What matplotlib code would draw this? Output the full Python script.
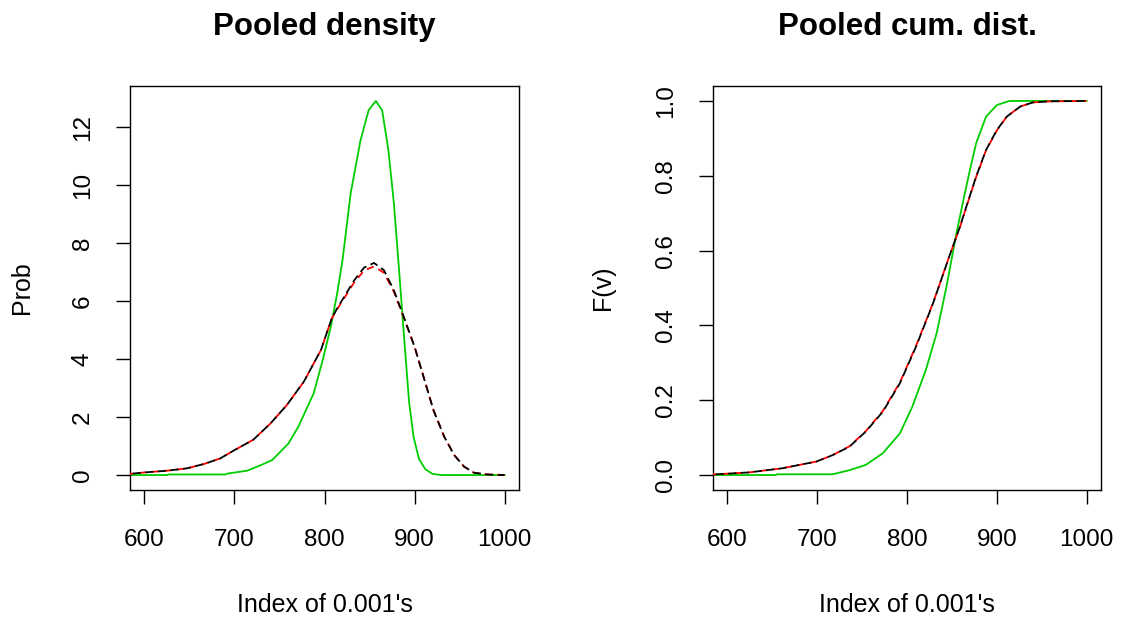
import matplotlib
matplotlib.use("Agg")
import matplotlib.pyplot as plt

plt.rcParams['font.family'] = ['Liberation Sans', 'DejaVu Sans']

# pooled density
dens_black_x = [580, 600, 625, 647, 666, 684, 700, 721, 740, 758, 777, 796, 808, 814,
                833, 844, 855, 866, 877, 888, 900, 910, 921, 933, 944, 955, 966, 981, 1000]
dens_black_y = [0.03, 0.09, 0.15, 0.23, 0.38, 0.57, 0.86, 1.22, 1.78, 2.41, 3.22, 4.31, 5.40, 5.75,
                6.72, 7.16, 7.32, 7.07, 6.38, 5.46, 4.43, 3.39, 2.24, 1.32, 0.69, 0.29, 0.08, 0.02, 0.0]

dens_red_x = dens_black_x
dens_red_y = [0.03, 0.09, 0.15, 0.23, 0.38, 0.57, 0.86, 1.22, 1.78, 2.41, 3.22, 4.31, 5.40, 5.72,
              6.65, 7.06, 7.20, 6.98, 6.33, 5.44, 4.43, 3.39, 2.24, 1.32, 0.69, 0.29, 0.08, 0.02, 0.0]

dens_green_x = [580, 625, 627, 690, 692, 714, 730, 742, 760, 771, 788, 798, 807, 814, 820, 829,
                840, 849, 857, 864, 871, 877, 883, 889, 894, 899, 905, 912, 920, 930, 1000]
dens_green_y = [0.0, 0.0, 0.02, 0.02, 0.05, 0.15, 0.35, 0.52, 1.09, 1.67, 2.82, 3.97, 5.11, 6.26, 7.41, 9.71,
                11.55, 12.59, 12.91, 12.59, 11.2, 9.4, 7.0, 4.5, 2.5, 1.3, 0.55, 0.2, 0.04, 0.0, 0.0]

# pooled cumulative distribution
cdf_black_x = [580, 624, 661, 699, 717, 736, 754, 773, 792, 810, 829, 847, 859, 866,
               877, 888, 900, 911, 926, 940, 959, 1000]
cdf_black_y = [0.001, 0.007, 0.018, 0.036, 0.053, 0.076, 0.116, 0.169, 0.245, 0.343, 0.459, 0.584, 0.664, 0.717,
               0.798, 0.869, 0.922, 0.958, 0.985, 0.996, 0.999, 1.0]

cdf_red_x = cdf_black_x
cdf_red_y = [0.001, 0.007, 0.018, 0.036, 0.053, 0.077, 0.117, 0.171, 0.247, 0.345, 0.460, 0.584, 0.663, 0.716,
             0.797, 0.868, 0.921, 0.958, 0.985, 0.996, 0.999, 1.0]

cdf_green_x = [580, 654, 655, 717, 736, 754, 773, 792, 806, 821, 833, 844, 855, 862, 870,
               877, 888, 900, 914, 1000]
cdf_green_y = [0.0, 0.0, 0.002, 0.002, 0.013, 0.027, 0.058, 0.111, 0.183, 0.281, 0.379, 0.504, 0.646, 0.726, 0.815,
               0.887, 0.958, 0.989, 1.0, 1.0]

x_ticks = [600, 700, 800, 900, 1000]
dens_ticks = [0, 2, 4, 6, 8, 10, 12]
cdf_ticks = [0.0, 0.2, 0.4, 0.6, 0.8, 1.0]

GREEN = '#00CD00'
fs = 17.5

fig = plt.figure(figsize=(11.24, 6.2), dpi=100)
ax1 = fig.add_axes([130 / 1124, 1 - 490 / 620, 389 / 1124, 404 / 620])
ax2 = fig.add_axes([713 / 1124, 1 - 490 / 620, 388 / 1124, 404 / 620])


def draw(ax, bx, by, rx, ry, gx, gy):
    ax.plot(gx, gy, color=GREEN, lw=1.3, zorder=2)
    ax.plot(rx, ry, color='red', lw=1.3, ls=(0, (4, 3)), zorder=3)
    ax.plot(bx, by, color='black', lw=1.3, ls=(3.5, (4.5, 2.5)), zorder=4)


draw(ax1, dens_black_x, dens_black_y, dens_red_x, dens_red_y, dens_green_x, dens_green_y)
draw(ax2, cdf_black_x, cdf_black_y, cdf_red_x, cdf_red_y, cdf_green_x, cdf_green_y)

ax1.set_ylim(-0.516, 13.426)
ax1.set_yticks(dens_ticks)
ax1.set_yticklabels([str(t) for t in dens_ticks])
ax2.set_ylim(-0.04, 1.04)
ax2.set_yticks(cdf_ticks)
ax2.set_yticklabels(['%.1f' % t for t in cdf_ticks])

for ax, title, ylab in [(ax1, 'Pooled density', 'Prob'), (ax2, 'Pooled cum. dist.', 'F(v)')]:
    ax.set_xlim(584, 1016)
    ax.set_xticks(x_ticks)
    ax.set_xticklabels([str(t) for t in x_ticks])
    for s in ax.spines.values():
        s.set_linewidth(1.0)
    ax.tick_params(axis='x', length=10, width=1.0, pad=18, labelsize=fs)
    ax.tick_params(axis='y', length=10, width=1.0, pad=16, labelsize=fs)
    for lab in ax.get_yticklabels():
        lab.set_rotation(90)
        lab.set_va('center')
    ax.set_title(title, fontsize=22.5, fontweight='bold', y=1.126, pad=0)
    ax.set_xlabel("Index of 0.001's", fontsize=18, va='center')
    ax.xaxis.set_label_coords(0.5, -0.285)
    ax.set_ylabel(ylab, fontsize=18, va='center')

ax1.yaxis.set_label_coords(-0.278, 0.5)
ax2.yaxis.set_label_coords(-0.284, 0.5)

fig.savefig('out.png', dpi=100)
